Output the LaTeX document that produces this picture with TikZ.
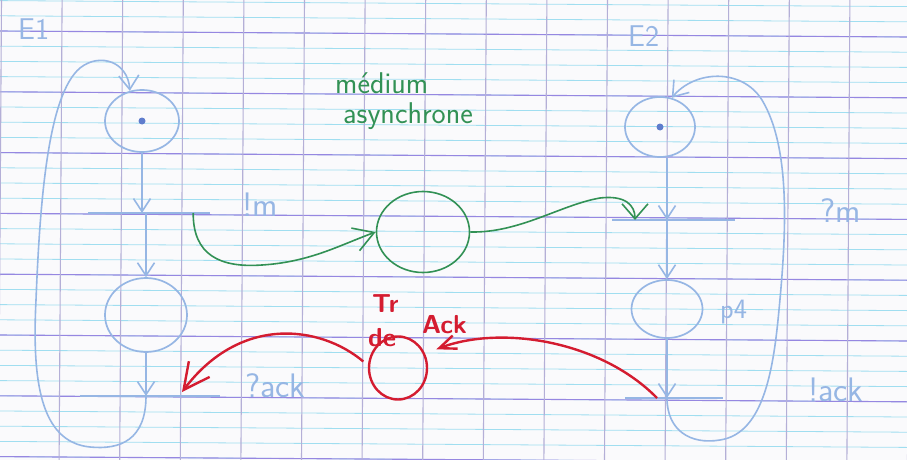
\documentclass[tikz,border=0pt]{standalone}
\usepackage{fontspec}
\usetikzlibrary{shapes.geometric,arrows.meta}
\definecolor{paper}{RGB}{250,250,252}
\definecolor{pencil}{RGB}{150,182,228}
\definecolor{tokenc}{RGB}{95,125,205}
\definecolor{gpen}{RGB}{50,145,85}
\definecolor{rpen}{RGB}{212,28,48}
\definecolor{gridp}{RGB}{150,135,225}
\definecolor{gridc}{RGB}{160,222,240}
\definecolor{gridv}{RGB}{180,175,215}
\begin{document}
\begin{tikzpicture}[x=1pt,y=-1pt,
  place/.style={ellipse,draw,inner sep=0pt,line width=1.7pt},
  bplace/.style={place,draw=pencil},
  token/.style={circle,fill=tokenc,inner sep=0pt,minimum size=7pt},
  tbar/.style={rectangle,fill=pencil,inner sep=0pt,minimum height=1.8pt},
  barc/.style={draw=pencil,line width=1.6pt,-{Straight Barb[length=13pt,width=17pt]}},
  bloop/.style={draw=pencil,line width=1.6pt,-{Straight Barb[length=14pt,width=20pt]}},
  garc/.style={draw=gpen,line width=1.6pt},
  rarc/.style={draw=rpen,line width=2.4pt},
  btxt/.style={text=pencil,font=\sffamily\fontsize{34}{36}\selectfont,inner sep=0pt,anchor=base west},
  gtxt/.style={text=gpen,font=\sffamily\fontsize{30}{32}\selectfont,inner sep=0pt,anchor=base west},
  rtxt/.style={text=rpen,font=\sffamily\bfseries\fontsize{26}{28}\selectfont,inner sep=0pt,anchor=base west}
]
\useasboundingbox (0,0) rectangle (907,460);
\fill[paper] (0,0) rectangle (907,460);
% paper grid
\foreach \k in {-2,...,28} \draw[gridc,line width=0.8pt] (0,{31+15.2*\k}) -- (907,{37+15.2*\k});
\foreach \k in {0,...,7} \draw[gridp,line width=1.1pt] (0,{31+60.8*\k}) -- (907,{37+60.8*\k});
\foreach \k in {0,...,15} \draw[gridv,line width=1.1pt] ({1.5+60.6*\k},0) -- ({-1.5+60.6*\k},460);

% ---- E1 ----
\node[btxt,font=\sffamily\fontsize{30}{32}\selectfont] (e1) at (18,40) {E1};
\node[bplace,minimum width=74pt,minimum height=62pt] (p1) at (142,121) {};
\node[token] (k1) at (p1.center) {};
\node[tbar,minimum width=122pt] (t1) at (149,213) {};
\node[bplace,minimum width=82pt,minimum height=74pt] (p2) at (146,315) {};
\node[tbar,minimum width=140pt] (t2) at (150,396) {};
\node[btxt] (lm) at (242,216) {!m};
\node[btxt] (la) at (245,397) {?ack};

\draw[barc] (p1.south) -- (p1.south |- t1.center);
\draw[barc] (t1.center -| p2.north) -- (p2.north);
\draw[barc] (p2.south) -- (p2.south |- t2.center);
\draw[bloop] (t2.center -| p2.south) .. controls (146,440) and (120,450) .. (90,447)
  .. controls (40,442) and (32,380) .. (36,300)
  .. controls (40,200) and (48,95) .. (80,68)
  .. controls (100,52) and (128,62) .. (p1.112);

% ---- E2 ----
\node[btxt,font=\sffamily\fontsize{30}{32}\selectfont] (e2) at (628,47) {E2};
\node[bplace,minimum width=70pt,minimum height=60pt] (p3) at (660,127) {};
\node[token] (k3) at (p3.center) {};
\node[tbar,minimum width=123pt] (t3) at (673,220) {};
\node[bplace,minimum width=71pt,minimum height=58pt] (p4) at (667,309) {};
\node[tbar,minimum width=98pt] (t4) at (674,398) {};
\node[btxt] (lm2) at (820,222) {?m};
\node[btxt,font=\sffamily\fontsize{28}{30}\selectfont] (lp4) at (720,318) {p4};
\node[btxt] (la2) at (808,401) {!ack};

\draw[barc] (p3.south -| p4.north) -- (t3.center -| p4.north);
\draw[barc] (t3.center -| p4.north) -- (p4.north);
\draw[barc] (p4.south) -- (p4.south |- t4.center);
\draw[bloop] (t4.center -| p4.south) .. controls (667,430) and (690,445) .. (720,440)
  .. controls (760,434) and (772,380) .. (778,320)
  .. controls (786,240) and (792,150) .. (762,100)
  .. controls (742,68) and (695,70) .. (p3.68);

% ---- medium ----
\node[gtxt] (med) at (335,93) {médium};
\node[gtxt] (asy) at (343,123) {asynchrone};
\node[place,draw=gpen,line width=1.6pt,minimum width=93pt,minimum height=81pt] (pg) at (423,232) {};
\draw[garc,-{Straight Barb[length=20pt,width=24pt]}] ([xshift=-17pt]t1.east)
  .. controls (193,255) and (220,268) .. (262,265)
  .. controls (310,262) and (340,245) .. (pg.west);
\draw[garc,-{Straight Barb[length=15pt,width=26pt]}] (pg.east)
  .. controls (520,233) and (560,205) .. (600,198)
  .. controls (625,195) and (635,205) .. ([xshift=-38pt]t3.center);

% ---- red ----
\node[place,draw=rpen,line width=2.4pt,minimum width=58pt,minimum height=63pt] (pr) at (398,368) {};
\node[rtxt] (ltr) at (372,312) {Tr};
\node[rtxt] (lde) at (368,346) {de};
\node[rtxt] (lack) at (422,333) {Ack};
\coordinate (rend) at (182,392);
\draw[rarc,-{Straight Barb[length=17pt,width=14pt]},shorten >=12pt] ([xshift=-17pt]t4.center)
  .. controls (600,340) and (500,325) .. (pr.28);
\draw[rarc,-{Straight Barb[length=26pt,width=26pt]},shorten <=6pt] (pr.175)
  .. controls (320,325) and (240,315) .. (rend);
\end{tikzpicture}
\end{document}
